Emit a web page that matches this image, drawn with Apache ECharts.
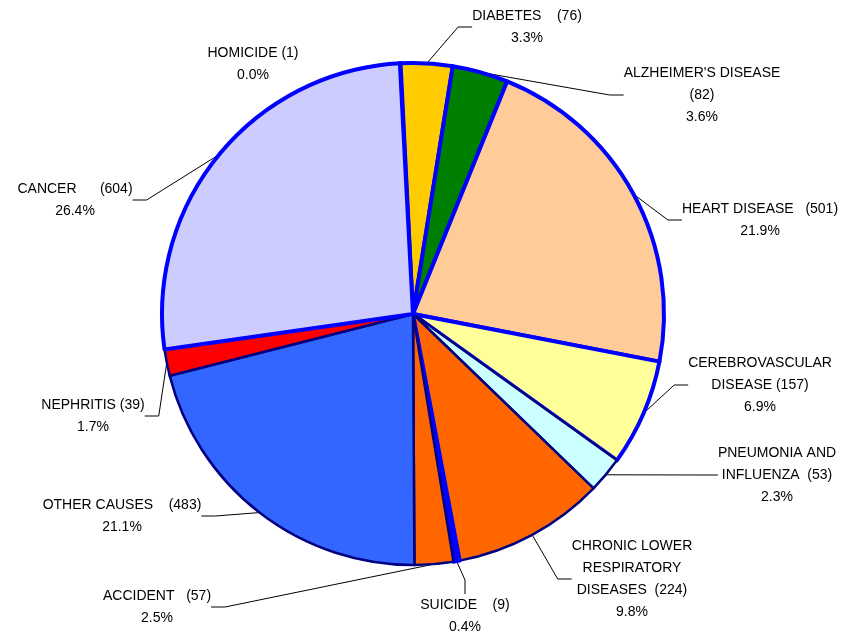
<!DOCTYPE html>
<html>
<head>
<meta charset="utf-8">
<script src="https://cdn.jsdelivr.net/npm/echarts@6/dist/echarts.min.js"></script>
<style>
  html, body { margin: 0; padding: 0; background: #fff; }
  #chart { width: 846px; height: 632px; }
</style>
</head>
<body>
<div id="chart"></div>
<script>
// slices, clockwise from 12 o'clock
const causes = [
  "HOMICIDE",
  "DIABETES",
  "ALZHEIMER'S DISEASE",
  "HEART DISEASE",
  "CEREBROVASCULAR\nDISEASE",
  "PNEUMONIA AND\nINFLUENZA",
  "CHRONIC LOWER\nRESPIRATORY\nDISEASES",
  "SUICIDE",
  "ACCIDENT",
  "OTHER CAUSES",
  "NEPHRITIS",
  "CANCER",
]
const deaths = [1, 76, 82, 501, 157, 53, 224, 9, 57, 483, 39, 604]

const total = deaths.reduce((a, b) => a + b, 0)

// look of the original sheet
const fills = ["#993366", "#FFCC00", "#008000", "#FFCC99", "#FFFF99", "#CCFFFF",
  "#FF6600", "#0000FF", "#FF6600", "#3366FF", "#FF0000", "#CCCCFF"]
const navyEdge = [5, 6, 8, 9, 10]
const gaps = [" ", "    ", "\n", "   ", " ", "  ", "  ", "    ", "   ", "    ", " ", "      "]
const labelSpots = [[253, 64], [527, 27], [702, 95], [760, 220], [760, 385], [777, 475],
  [632, 579], [465, 616], [157, 607], [122, 516], [93, 416], [75, 200]]

let myChart = echarts.init(document.getElementById("chart"))
myChart.setOption({
  animation: false,
  series: [
    {
      type: "pie",
      center: [413, 314],
      radius: 251,
      startAngle: 93,
      clockwise: true,
      avoidLabelOverlap: false,
      emphasis: { disabled: true },
      data: deaths.map((v, i) => ({
        value: v,
        name: causes[i],
        itemStyle: {
          color: fills[i],
          borderColor: navyEdge.includes(i) ? "#000080" : "#0000FF",
          borderWidth: navyEdge.includes(i) ? 2.5 : 4,
        },
        labelLine: { show: i !== 0 },
      })),
      label: {
        show: true,
        position: "outside",
        color: "#000",
        fontFamily: "Liberation Sans, Arial, sans-serif",
        fontSize: 14,
        lineHeight: 22,
        align: "center",
        formatter: (p) => {
          let pct = ((p.value / total) * 100).toFixed(1)
          return p.name + gaps[p.dataIndex] + "(" + p.value + ")\n" + pct + "%"
        },
      },
      labelLine: {
        show: true,
        length: 10,
        length2: 14,
        smooth: false,
        lineStyle: { color: "#000", width: 1 },
      },
      labelLayout: (params) => {
        let spot = labelSpots[params.dataIndex]
        return { x: spot[0], y: spot[1], align: "center", verticalAlign: "middle" }
      },
    },
  ],
})
</script>
</body>
</html>
